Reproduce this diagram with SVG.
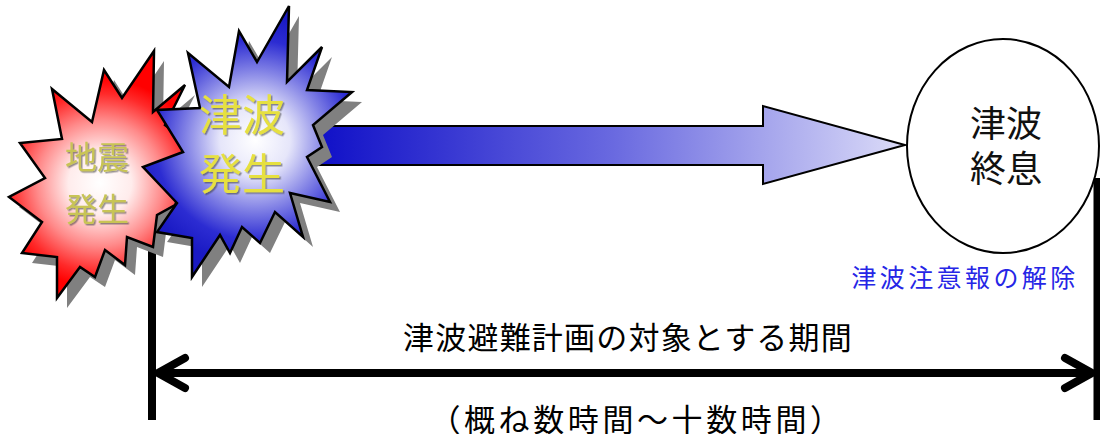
<svg xmlns="http://www.w3.org/2000/svg" width="1100" height="434" viewBox="0 0 1100 434">
  <style>
    .star { stroke: #000; stroke-width: 2.5; stroke-linejoin: miter; }
    .shadow { fill: #808080; }
    .jp { font-family: "Noto Sans CJK JP", "Noto Sans CJK SC", sans-serif; }
    .burst-text { text-anchor: middle; dominant-baseline: central; filter: url(#textShadow); }
    .rule { stroke: #000; fill: none; }
  </style>
  <defs>
    <radialGradient id="redBurst" gradientUnits="userSpaceOnUse" cx="100" cy="183" r="105">
      <stop offset="0" stop-color="#ffffff"/>
      <stop offset="0.3" stop-color="#ffecec"/>
      <stop offset="0.6" stop-color="#ff8a8a"/>
      <stop offset="0.85" stop-color="#ff2a2a"/>
      <stop offset="1" stop-color="#ff0000"/>
    </radialGradient>
    <radialGradient id="blueBurst" gradientUnits="userSpaceOnUse" cx="255" cy="140" r="125">
      <stop offset="0" stop-color="#ffffff"/>
      <stop offset="0.28" stop-color="#e6e6fa"/>
      <stop offset="0.55" stop-color="#8484e6"/>
      <stop offset="0.8" stop-color="#2c2cd2"/>
      <stop offset="1" stop-color="#1a1ac4"/>
    </radialGradient>
    <linearGradient id="flowFill" gradientUnits="userSpaceOnUse" x1="325" y1="0" x2="905" y2="0">
      <stop offset="0" stop-color="#1212c8"/>
      <stop offset="0.5" stop-color="#6a6ae0"/>
      <stop offset="1" stop-color="#dcdcf8"/>
    </linearGradient>
    <filter id="textShadow" x="-10%" y="-10%" width="130%" height="130%">
      <feDropShadow dx="1.5" dy="1.5" stdDeviation="0.6" flood-color="#404040" flood-opacity="0.55"/>
    </filter>
    <marker id="chevron" viewBox="-36 -20 40 40" refX="0" refY="0" markerWidth="40" markerHeight="40" markerUnits="userSpaceOnUse" orient="auto-start-reverse" overflow="visible">
      <path d="M-27,-15 L0,0 L-27,15" fill="none" stroke="#000" stroke-width="8" stroke-linecap="round" stroke-linejoin="round"/>
    </marker>
  </defs>

  <rect width="1100" height="434" fill="#ffffff"/>

  <!-- connectors: period bounds, span arrow and tsunami flow arrow -->
  <g id="connectors">
    <line class="rule" x1="152" y1="232" x2="152" y2="420" stroke-width="8"/>
    <line class="rule" x1="1097" y1="178" x2="1097" y2="420" stroke-width="7"/>
    <line class="rule" x1="158" y1="373" x2="1092" y2="373" stroke-width="8" marker-start="url(#chevron)" marker-end="url(#chevron)"/>
    <path id="flow-arrow" d="M318,126 L763,126 L763,106 L905,145 L763,184 L763,165 L318,165 Z" fill="url(#flowFill)" stroke="#000" stroke-width="2"/>
  </g>

  <!-- earthquake burst -->
  <g id="node-quake">
    <polygon class="shadow" transform="translate(10,10)" points="52,89 62,139 20,143 45,178 9,197 42,222 22,253 57,257 57,298 80,267 95,277 105,250 125,265 127,237 153,247 157,215 175,205 200,150 165,125 185,85 153,112 154,51 122,98 104,70 92,122"/>
    <polygon class="star" fill="url(#redBurst)" points="52,89 62,139 20,143 45,178 9,197 42,222 22,253 57,257 57,298 80,267 95,277 105,250 125,265 127,237 153,247 157,215 175,205 200,150 165,125 185,85 153,112 154,51 122,98 104,70 92,122"/>
    <text class="jp burst-text" font-size="32" fill="#c8c455"><tspan x="97" y="155">地震</tspan><tspan x="97" y="207">発生</tspan></text>
  </g>

  <!-- tsunami burst -->
  <g id="node-tsunami">
    <polygon class="shadow" transform="translate(10,10)" points="188,53 229,87 239,31 257,62 289,6 287,82 322,47 307,90 352,92 313,125 322,147 307,157 330,202 290,193 303,237 275,212 260,243 242,227 230,253 220,235 192,277 192,238 157,232 177,203 143,167 183,152 157,110 200,108"/>
    <polygon class="star" fill="url(#blueBurst)" points="188,53 229,87 239,31 257,62 289,6 287,82 322,47 307,90 352,92 313,125 322,147 307,157 330,202 290,193 303,237 275,212 260,243 242,227 230,253 220,235 192,277 192,238 157,232 177,203 143,167 183,152 157,110 200,108"/>
    <text class="jp burst-text" font-size="43" fill="#e6e040"><tspan x="242" y="112">津波</tspan><tspan x="242" y="171">発生</tspan></text>
  </g>

  <!-- tsunami end -->
  <g id="node-end">
    <ellipse cx="1003" cy="146" rx="96" ry="107" fill="#ffffff" stroke="#000" stroke-width="2"/>
    <text class="jp" font-size="36" fill="#111" text-anchor="middle" dominant-baseline="central"><tspan x="1006" y="121">津波</tspan><tspan x="1006" y="166">終息</tspan></text>
  </g>

  <g id="label-warning">
    <text class="jp" x="965" y="276" font-size="25" fill="#2626e6" text-anchor="middle" dominant-baseline="central" letter-spacing="3.4">津波注意報の解除</text>
  </g>

  <g id="label-period">
    <text class="jp" x="628" y="335" font-size="31" fill="#000" text-anchor="middle" dominant-baseline="central" letter-spacing="1.2">津波避難計画の対象とする期間</text>
    <text class="jp" x="637" y="417" font-size="31" fill="#000" text-anchor="middle" dominant-baseline="central" letter-spacing="3.6">（概ね数時間～十数時間）</text>
  </g>
</svg>
